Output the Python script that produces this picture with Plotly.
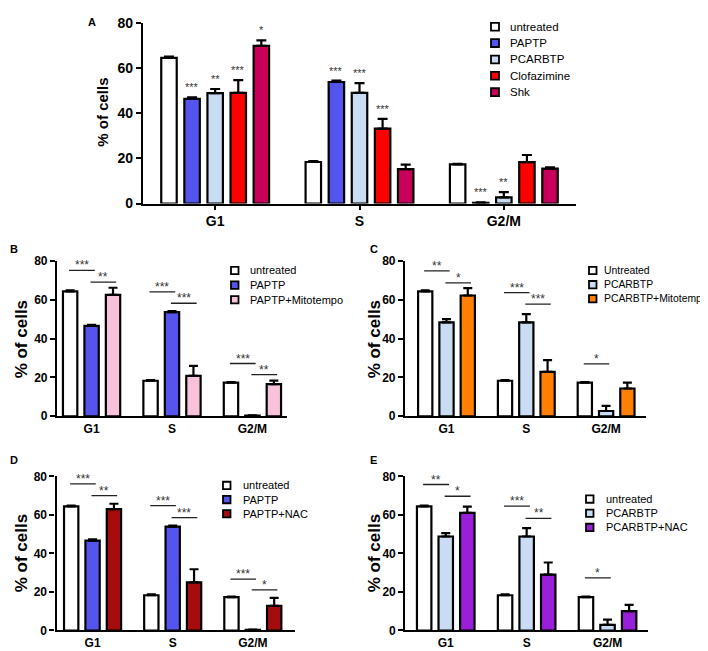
import plotly.graph_objects as go

W, H = 708, 651
FONT = "Liberation Sans, Arial, sans-serif"

groups = ['G1', 'S', 'G2/M']

# ---- panel A ----
a_names = ['untreated', 'PAPTP', 'PCARBTP', 'Clofazimine', 'Shk']
a_colors = ['#ffffff', '#5555ee', '#c9dcf4', '#ff0000', '#c8005a']
a_untreated = [64.5, 18.4, 17.3]
a_untreated_err = [0.5, 0.4, 0.3]
a_paptp = [46.4, 53.8, 0.3]
a_paptp_err = [0.6, 0.6, 0.2]
a_pcarbtp = [48.9, 49.0, 2.7]
a_pcarbtp_err = [1.8, 4.3, 2.4]
a_clof = [49.0, 33.2, 18.3]
a_clof_err = [5.6, 4.3, 3.2]
a_shk = [69.8, 15.2, 15.5]
a_shk_err = [2.4, 2.0, 0.5]
a_stars = [['', '', ''], ['***', '***', '***'], ['**', '***', '**'],
           ['***', '***', ''], ['*', '', '']]

# ---- panels B-E (untreated is the same in all) ----
untreated = [64.4, 18.3, 17.3]
untreated_err = [0.5, 0.4, 0.3]

b_names = ['untreated', 'PAPTP', 'PAPTP+Mitotempo']
b_colors = ['#ffffff', '#5555ee', '#f8c3da']
b_paptp = [46.6, 53.7, 0.3]
b_paptp_err = [0.6, 0.6, 0.1]
b_mito = [62.6, 20.8, 16.6]
b_mito_err = [3.7, 5.2, 1.8]
b_sig = [['***', '**'], ['***', '***'], ['***', '**']]
b_sig_y = [[75.3, 69.2], [64.2, 58.3], [27.2, 21.5]]

c_names = ['Untreated', 'PCARBTP', 'PCARBTP+Mitotempo']
c_colors = ['#ffffff', '#c9dcf4', '#ff7f00']
c_pcarbtp = [48.4, 48.4, 2.7]
c_pcarbtp_err = [1.7, 4.3, 2.6]
c_mito = [62.3, 22.9, 14.3]
c_mito_err = [3.8, 6.0, 3.0]
c_sig = [['**', '*'], ['***', '***'], ['*', None]]
c_sig_y = [[75.0, 68.8], [63.8, 57.8], [27.0, None]]

d_names = ['untreated', 'PAPTP', 'PAPTP+NAC']
d_colors = ['#ffffff', '#5555ee', '#a50d0d']
d_paptp = [46.7, 53.9, 0.3]
d_paptp_err = [0.6, 0.6, 0.1]
d_nac = [63.0, 25.0, 12.8]
d_nac_err = [2.8, 6.8, 4.1]
d_sig = [['***', '**'], ['***', '***'], ['***', '*']]
d_sig_y = [[76.1, 70.0], [64.8, 58.6], [26.7, 21.1]]

e_names = ['untreated', 'PCARBTP', 'PCARBTP+NAC']
e_colors = ['#ffffff', '#c9dcf4', '#9a1fd8']
e_pcarbtp = [48.8, 48.8, 2.9]
e_pcarbtp_err = [1.8, 4.4, 2.7]
e_nac = [61.1, 29.0, 10.1]
e_nac_err = [3.2, 6.3, 3.2]
e_sig = [['**', '*'], ['***', '**'], ['*', None]]
e_sig_y = [[75.8, 69.7], [64.6, 58.2], [27.3, None]]

BARGAP = 0.2


def px(x):
    return x / W


def py(y):
    return 1 - y / H


fig = go.Figure()


def add_bars(suffix, names, colors, series, errs, cap):
    for name, col, vals, err in zip(names, colors, series, errs):
        fig.add_trace(go.Bar(
            x=groups, y=vals, name=name, showlegend=False,
            xaxis='x' + suffix, yaxis='y' + suffix,
            marker=dict(color=col, line=dict(color='black', width=2.2)),
            error_y=dict(type='data', array=err, arrayminus=[0] * len(err),
                         symmetric=False, color='black', thickness=2.2, width=cap),
        ))


def axes(suffix, xdom, ydom, xrange, tickfont, xticks):
    lay = {}
    xa = 'xaxis' + suffix
    ya = 'yaxis' + suffix
    lay[xa] = dict(domain=[px(xdom[0]), px(xdom[1])], anchor='y' + suffix,
                   range=xrange, showline=True, linecolor='black', linewidth=2.2,
                   ticks='outside' if xticks else '', ticklen=4, tickwidth=2,
                   tickcolor='black', showgrid=False, zeroline=False,
                   tickfont=dict(family=FONT, size=tickfont, color='black', weight='bold'),
                   fixedrange=True)
    lay[ya] = dict(domain=[py(ydom[1]), py(ydom[0])], anchor='x' + suffix,
                   range=[0, 80], tickvals=[0, 20, 40, 60, 80], showline=True,
                   linecolor='black', linewidth=2.2, ticks='outside', ticklen=5,
                   tickwidth=2, tickcolor='black', showgrid=False, zeroline=False,
                   tickfont=dict(family=FONT, size=tickfont, color='black', weight='bold'),
                   fixedrange=True)
    return lay


def legend(x_sq, x_txt, ys, names, colors, size, fsize):
    shapes, annots = [], []
    for yy, name, col in zip(ys, names, colors):
        shapes.append(dict(type='rect', xref='paper', yref='paper',
                           x0=px(x_sq), x1=px(x_sq + size),
                           y0=py(yy + size / 2), y1=py(yy - size / 2),
                           fillcolor=col, line=dict(color='black', width=1.8)))
        annots.append(dict(xref='paper', yref='paper', x=px(x_txt), y=py(yy),
                           xanchor='left', yanchor='middle', showarrow=False,
                           text=name, font=dict(family=FONT, size=fsize, color='black')))
    return shapes, annots


layout_axes = {}
shapes = []
annotations = []

# panel A
add_bars('', a_names, a_colors,
         [a_untreated, a_paptp, a_pcarbtp, a_clof, a_shk],
         [a_untreated_err, a_paptp_err, a_pcarbtp_err, a_clof_err, a_shk_err], 5)
layout_axes.update(axes('', (135, 568), (8, 193), [-0.5, 2.5], 14, True))
slot_a = (1 - BARGAP) / 5
a_vals = [a_untreated, a_paptp, a_pcarbtp, a_clof, a_shk]
a_errs = [a_untreated_err, a_paptp_err, a_pcarbtp_err, a_clof_err, a_shk_err]
for k in range(5):
    for g in range(3):
        if a_stars[k][g]:
            annotations.append(dict(xref='x', yref='y', x=g + (k - 2) * slot_a,
                                    y=a_vals[k][g] + a_errs[k][g], yanchor='bottom',
                                    showarrow=False, text=a_stars[k][g], yshift=2,
                                    font=dict(family=FONT, size=11, color='#333333')))
s, an = legend(483, 500, [12, 28.75, 45.5, 62.25, 79], a_names, a_colors, 8, 11.5)
shapes += s
annotations += an

# panels B-E
panels = [
    ('2', b_names, b_colors, [untreated, b_paptp, b_mito],
     [untreated_err, b_paptp_err, b_mito_err], b_sig, b_sig_y,
     (49, 279), (252, 410.7), [-0.43, 2.43], (223, 240, [261.5, 276.5, 291.5]), 11),
    ('3', c_names, c_colors, [untreated, c_pcarbtp, c_mito],
     [untreated_err, c_pcarbtp_err, c_mito_err], c_sig, c_sig_y,
     (397, 638), (252, 410.7), [-0.52, 2.5], (581, 594, [261.5, 276, 290.5]), 10.4),
    ('4', d_names, d_colors, [untreated, d_paptp, d_nac],
     [untreated_err, d_paptp_err, d_nac_err], d_sig, d_sig_y,
     (48.5, 286.5), (472.3, 630), [-0.45, 2.52], (215, 233, [481.5, 496, 510.5]), 11),
    ('5', e_names, e_colors, [untreated, e_pcarbtp, e_nac],
     [untreated_err, e_pcarbtp_err, e_nac_err], e_sig, e_sig_y,
     (397.3, 640), (472.3, 630), [-0.5, 2.5], (578, 596, [495.5, 510, 524.5]), 11),
]
slot = (1 - BARGAP) / 3
for suf, names, colors, vals, errs, sig, sig_y, xd, yd, xr, leg, lfs in panels:
    add_bars(suf, names, colors, vals, errs, 4.5)
    layout_axes.update(axes(suf, xd, yd, xr, 12, False))
    for g in range(3):
        for j in range(2):
            if sig[g][j] is None:
                continue
            x0 = g + (j - 1) * slot - 0.05 * slot
            x1 = g + j * slot + 0.15 * slot
            shapes.append(dict(type='line', xref='x' + suf, yref='y' + suf,
                               x0=x0, x1=x1, y0=sig_y[g][j], y1=sig_y[g][j],
                               line=dict(color='#222222', width=1.3)))
            annotations.append(dict(xref='x' + suf, yref='y' + suf, x=(x0 + x1) / 2,
                                    y=sig_y[g][j], yanchor='bottom', showarrow=False,
                                    text=sig[g][j], yshift=-4,
                                    font=dict(family=FONT, size=12, color='#333333')))
    s, an = legend(leg[0], leg[1], leg[2], names, colors, 7.5, lfs)
    shapes += s
    annotations += an

# y titles and panel letters
for (xx, yy, fs) in [(95, 100, 15), (13, 332, 17), (366, 332, 17), (13, 551, 17), (366, 551, 17)]:
    annotations.append(dict(xref='paper', yref='paper', x=px(xx), y=py(yy), showarrow=False,
                            text='% of cells', textangle=-90, xanchor='center', yanchor='middle',
                            font=dict(family=FONT, size=fs, color='black', weight='bold')))
for (lab, xx, yy) in [('A', 84, 7), ('B', 6, 240), ('C', 366, 240), ('D', 6, 455), ('E', 366, 455)]:
    annotations.append(dict(xref='paper', yref='paper', x=px(xx), y=py(yy), showarrow=False,
                            text=lab, xanchor='center', yanchor='middle',
                            font=dict(family=FONT, size=11, color='black', weight='bold')))

fig.update_layout(
    width=W, height=H, margin=dict(l=0, r=0, t=0, b=0),
    paper_bgcolor='white', plot_bgcolor='white',
    barmode='group', bargap=BARGAP, bargroupgap=0.33,
    shapes=shapes, annotations=annotations,
    **layout_axes,
)

fig.write_html("out.html")
